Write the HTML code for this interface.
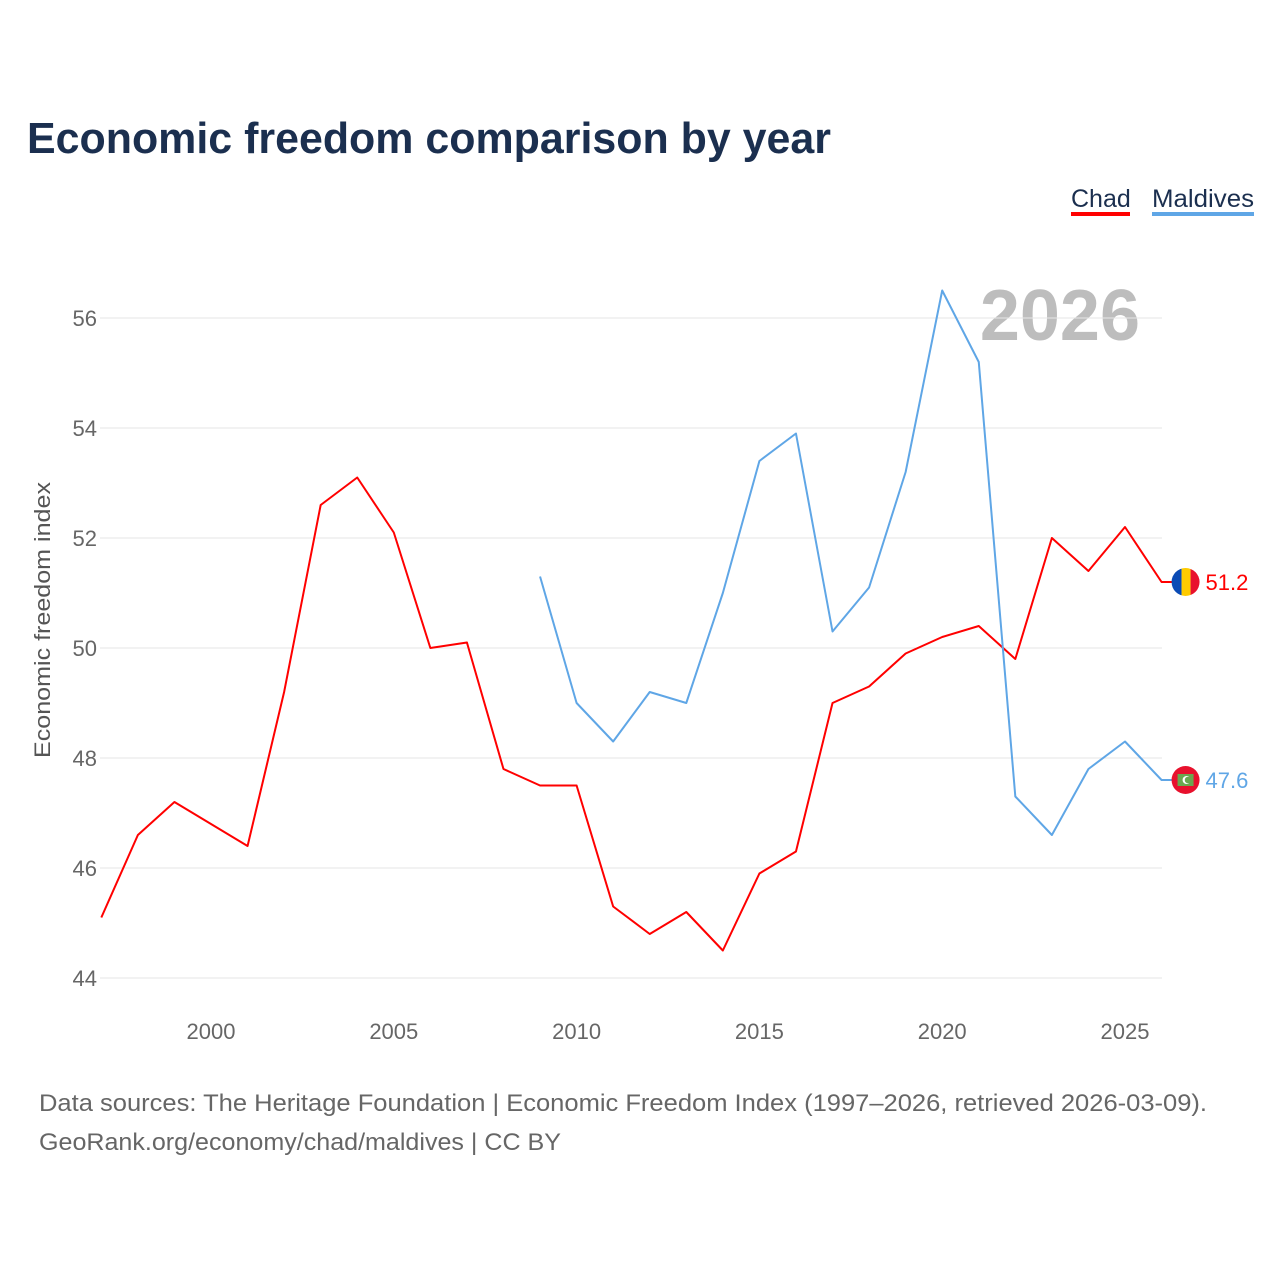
<!DOCTYPE html>
<html><head><meta charset="utf-8"><style>
body{margin:0;background:#fff;width:1280px;height:1280px;overflow:hidden;font-family:"Liberation Sans",sans-serif}
</style></head><body>
<svg id="chart" width="1280" height="1280" xmlns="http://www.w3.org/2000/svg" font-family="Liberation Sans, sans-serif">
<text x="27" y="153" font-size="44" font-weight="bold" fill="#1b2f4f" textLength="804" lengthAdjust="spacingAndGlyphs">Economic freedom comparison by year</text>
<g><text x="1071" y="207" font-size="25" fill="#1b2f4f">Chad</text><rect x="1071" y="212" width="59" height="4" fill="#ff0000"/></g>
<g><text x="1152" y="207" font-size="25" fill="#1b2f4f" textLength="102" lengthAdjust="spacingAndGlyphs">Maldives</text><rect x="1152" y="212" width="102" height="4" fill="#5fa6e6"/></g>
<text x="1140" y="340" text-anchor="end" font-size="72" font-weight="bold" fill="#bdbdbd">2026</text>
<text transform="translate(50,620) rotate(-90)" text-anchor="middle" font-size="22" fill="#555" textLength="276" lengthAdjust="spacingAndGlyphs">Economic freedom index</text>
<g id="grid"></g><g id="series"></g>
<text x="39" y="1111" font-size="24" fill="#666" textLength="1168" lengthAdjust="spacingAndGlyphs">Data sources: The Heritage Foundation | Economic Freedom Index (1997–2026, retrieved 2026-03-09).</text>
<text x="39" y="1150" font-size="24" fill="#666" textLength="522" lengthAdjust="spacingAndGlyphs">GeoRank.org/economy/chad/maldives | CC BY</text>
</svg>
<script>
const chadYears=[1997,1998,1999,2000,2001,2002,2003,2004,2005,2006,2007,2008,2009,2010,2011,2012,2013,2014,2015,2016,2017,2018,2019,2020,2021,2022,2023,2024,2025,2026];
const chadValues=[45.1,46.6,47.2,46.8,46.4,49.2,52.6,53.1,52.1,50.0,50.1,47.8,47.5,47.5,45.3,44.8,45.2,44.5,45.9,46.3,49.0,49.3,49.9,50.2,50.4,49.8,52.0,51.4,52.2,51.2];
const maldivesYears=[2009,2010,2011,2012,2013,2014,2015,2016,2017,2018,2019,2020,2021,2022,2023,2024,2025,2026];
const maldivesValues=[51.3,49.0,48.3,49.2,49.0,51.0,53.4,53.9,50.3,51.1,53.2,56.5,55.2,47.3,46.6,47.8,48.3,47.6];
const yTicks=[44,46,48,50,52,54,56];
const xTicks=[2000,2005,2010,2015,2020,2025];
const NS="http://www.w3.org/2000/svg";
const x=y=>211+(y-2000)*36.56;
const yS=v=>978-(v-44)*55;
const grid=document.getElementById('grid'),ser=document.getElementById('series');
function mk(tag,attrs,parent,txt){const e=document.createElementNS(NS,tag);for(const k in attrs)e.setAttribute(k,attrs[k]);if(txt!==undefined)e.textContent=txt;parent.appendChild(e);return e;}
yTicks.forEach(t=>{
 const l=mk('line',{x1:100,x2:1162,y1:yS(t),y2:yS(t),stroke:'#e6e6e6','stroke-width':1},grid);
 
 
 const tx=mk('text',{x:97,y:yS(t)+8,'text-anchor':'end','font-size':22,fill:'#666'},grid,t);
 
 
});
xTicks.forEach(t=>{
 const tx=mk('text',{x:x(t),y:1039,'text-anchor':'middle','font-size':22,fill:'#666'},grid,t);
 
 
});
function line(years,vals,color,name,flag){
 const lx=x(years[years.length-1]),ly=yS(vals[vals.length-1]);
 const pts=years.map((yr,i)=>x(yr)+','+yS(vals[i]));
 pts.push((lx+12)+','+ly);
 const p=mk('polyline',{points:pts.join(' '),fill:'none',stroke:color,'stroke-width':2,'stroke-linejoin':'round'},ser);
 
 
 const g=mk('g',{},ser);
 
 
 flag(g,lx+24,ly);
 const t=mk('text',{x:lx+44,y:ly+8,'font-size':22,fill:color},ser,vals[vals.length-1].toFixed(1));
 
 
}
line(chadYears,chadValues,'#ff0000','chad',(g,cx,cy)=>{
 mk('clipPath',{id:'c1'},g);const cp=g.lastChild;mk('circle',{cx:cx,cy:cy,r:14},cp);
 const gg=mk('g',{'clip-path':'url(#c1)'},g);
 mk('rect',{x:cx-14,y:cy-14,width:10,height:28,fill:'#0a4bb5'},gg);
 mk('rect',{x:cx-4,y:cy-14,width:9,height:28,fill:'#fecb00'},gg);
 mk('rect',{x:cx+5,y:cy-14,width:10,height:28,fill:'#e8112d'},gg);
});
line(maldivesYears,maldivesValues,'#5fa6e6','maldives',(g,cx,cy)=>{
 mk('circle',{cx:cx,cy:cy,r:14,fill:'#e8112d'},g);
 mk('rect',{x:cx-8,y:cy-6,width:16,height:12,fill:'#6aa84f'},g);
 mk('circle',{cx:cx+1,cy:cy,r:4,fill:'#fff'},g);
 mk('circle',{cx:cx+2.5,cy:cy,r:3.3,fill:'#6aa84f'},g);
});
</script>
</body></html>
